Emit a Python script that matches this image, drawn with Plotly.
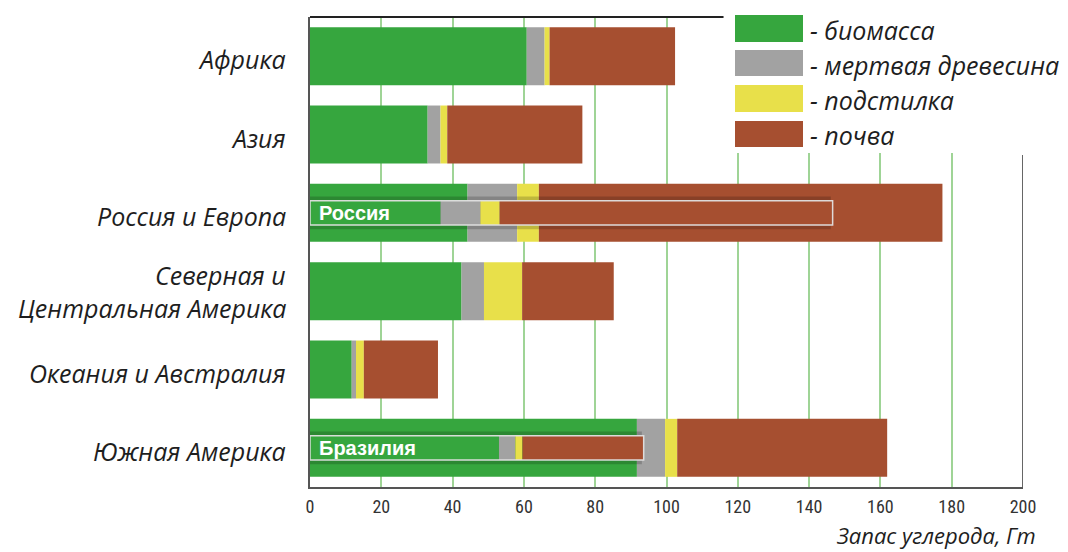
import plotly.graph_objects as go

# ---- data ----
regions = ["Африка", "Азия", "Россия и Европа", "Северная и Центральная Америка",
           "Океания и Австралия", "Южная Америка"]
region_labels = [["Африка"], ["Азия"], ["Россия и Европа"], ["Северная и", "Центральная Америка"],
                 ["Океания и Австралия"], ["Южная Америка"]]
series_names = ["биомасса", "мертвая древесина", "подстилка", "почва"]
biomass = [60.8, 33.0, 44.2, 42.5, 11.7, 91.7]
deadwood = [5.0, 3.6, 13.9, 6.3, 1.2, 7.9]
litter = [1.4, 1.9, 6.1, 10.7, 2.2, 3.4]
soil = [35.2, 37.9, 113.2, 25.7, 20.8, 58.9]

inner_regions = ["Россия и Европа", "Южная Америка"]
inner_names = ["Россия", "Бразилия"]
inner_biomass = [36.6, 53.0]
inner_deadwood = [11.2, 4.6]
inner_litter = [5.4, 2.0]
inner_soil = [93.4, 34.0]

x_ticks = [0, 20, 40, 60, 80, 100, 120, 140, 160, 180, 200]
x_title = "Запас углерода, Гт"

colors = ["#36a63e", "#a2a2a2", "#e8e04a", "#a64f30"]
FONT = "Open Sans"

fig = go.Figure()

outer = [biomass, deadwood, litter, soil]
base = [0.0] * len(regions)
for name, vals, col in zip(series_names, outer, colors):
    fig.add_trace(go.Bar(y=regions, x=vals, base=list(base), orientation="h", width=0.74,
                         marker=dict(color=col, line=dict(width=0)), name=name))
    base = [b + v for b, v in zip(base, vals)]

inner = [inner_biomass, inner_deadwood, inner_litter, inner_soil]
inner_total = [sum(v) for v in zip(*inner)]

# soft shadow under the inset bars
fig.add_trace(go.Bar(y=inner_regions, x=[t + 2.5 for t in inner_total], base=[-3, -3],
                     orientation="h", width=0.42,
                     marker=dict(color="rgba(0,0,0,0.18)", line=dict(width=0))))
ibase = [0.0] * len(inner_regions)
for name, vals, col in zip(series_names, inner, colors):
    fig.add_trace(go.Bar(y=inner_regions, x=vals, base=list(ibase), orientation="h", width=0.31,
                         marker=dict(color=col, line=dict(width=0)), name=name))
    ibase = [b + v for b, v in zip(ibase, vals)]
# light outline of inset bars
fig.add_trace(go.Bar(y=inner_regions, x=inner_total, base=[0, 0], orientation="h", width=0.31,
                     marker=dict(color="rgba(0,0,0,0)", line=dict(color="rgba(225,225,225,0.95)", width=1.5))))

annotations = []
for r, name in zip(inner_regions, inner_names):
    annotations.append(dict(x=2, y=r, xref="x", yref="y", text="<b>" + name + "</b>",
                            showarrow=False, xanchor="left", yanchor="middle",
                            font=dict(family="Liberation Sans", size=20, color="white")))

for r, lines in zip(regions, region_labels):
    if len(lines) == 1:
        shifts = [-3]
    else:
        shifts = [16, -17]
    for ln, sh in zip(lines, shifts):
        annotations.append(dict(x=-0.031, y=r, xref="paper", yref="y", text=ln, yshift=sh,
                                showarrow=False, xanchor="right", yanchor="middle",
                                font=dict(family=FONT, size=25, color="#1e1e1e", style="italic")))

# positions below are given in page pixels of the plot box (left 310, top 17, width 713, height 470)
W, H = 713.0, 470.0
def px(xp):
    return (xp - 310) / W
def py(yp):
    return (487 - yp) / H

shapes = []
shapes.append(dict(type="line", xref="x", yref="paper", x0=0, x1=116, y0=1, y1=1,
                   line=dict(color="#222222", width=2), layer="above"))
shapes.append(dict(type="rect", xref="paper", yref="paper", x0=px(729), x1=1.07, y0=py(153), y1=1.05,
                   fillcolor="white", line=dict(width=0), layer="above"))
shapes.append(dict(type="line", xref="x", yref="paper", x0=200, x1=200, y0=0, y1=py(155),
                   line=dict(color="#666666", width=2), layer="above"))

sw_y = [(15, 42), (50, 76), (85, 112), (121, 147)]
for (a, b), col, name in zip(sw_y, colors, series_names):
    shapes.append(dict(type="rect", xref="paper", yref="paper", x0=px(735), x1=px(803),
                       y0=py(b), y1=py(a), fillcolor=col, line=dict(width=0), layer="above"))
    annotations.append(dict(x=px(808), y=py((a + b) / 2 + 1.5), xref="paper", yref="paper",
                            text="- " + name, showarrow=False, xanchor="left", yanchor="middle",
                            font=dict(family=FONT, size=25, color="#1e1e1e", style="italic")))

annotations.append(dict(x=px(1038), y=py(552), xref="paper", yref="paper", text=x_title,
                        showarrow=False, xanchor="right", yanchor="bottom",
                        font=dict(family=FONT, size=22, color="#1e1e1e", style="italic")))

# the page has an 8px body margin, so the figure is 8px smaller than the window on each axis
fig.update_layout(
    width=1060, height=544,
    margin=dict(l=302, r=45, t=9, b=65),
    barmode="overlay",
    showlegend=False,
    plot_bgcolor="white", paper_bgcolor="white",
    shapes=shapes, annotations=annotations,
    xaxis=dict(range=[0, 200], tickvals=x_ticks, showgrid=True, gridcolor="#9fd496", gridwidth=1.5,
               zeroline=False, showline=True, linecolor="#555555", linewidth=2,
               ticks="", ticklabelstandoff=2,
               tickfont=dict(family="Liberation Sans Narrow, Roboto Condensed, Roboto", size=18,
                             color="#333333")),
    yaxis=dict(categoryorder="array", categoryarray=regions, range=[5.5, -0.5],
               showticklabels=False, showgrid=False, zeroline=False,
               showline=True, linecolor="#555555", linewidth=2, ticks=""),
)

fig.write_html("out.html")
